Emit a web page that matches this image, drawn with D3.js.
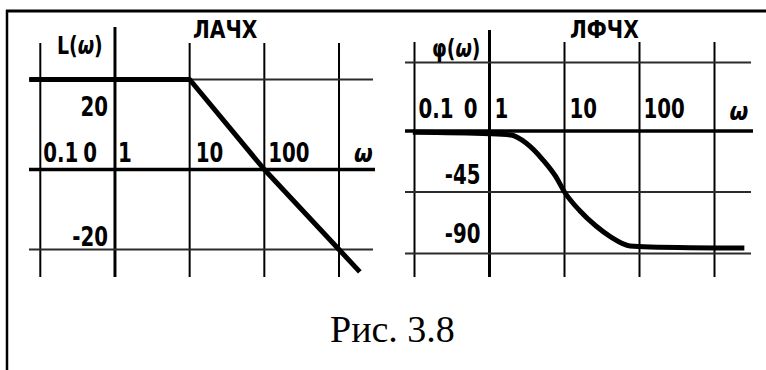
<!DOCTYPE html>
<html>
<head>
<meta charset="utf-8">
<script src="https://cdn.jsdelivr.net/npm/d3@7"></script>
<style>
  html, body { margin: 0; padding: 0; background: #fff; }
  svg { display: block; }
  .lbl { font-family: "DejaVu Sans Condensed", "DejaVu Sans", sans-serif; font-stretch: condensed; font-weight: bold; fill: #000; }
  .cap { font-family: "Liberation Serif", "Times New Roman", serif; fill: #000; }
</style>
</head>
<body>
<svg id="fig" width="766" height="370"></svg>
<script>
// Frequency decades shared by both plots
const freqTicks = [0.1, 1, 10, 100, 1000];
const freqLabels = ["0.1", "1", "10", "100"];

// ЛАЧХ: amplitude levels (dB) and asymptotic characteristic
const ampGrid = [20, 0, -20];
const ampLabels = ["20", "-20"];
const ampOmega = [0.071, 10, 100, 1000, 1900];
const ampL = [20, 20, 0, -20, -25.6];

// ЛФЧХ: phase levels (deg) and phase characteristic
const phaseGrid = [45, 0, -45, -90];
const phaseLabels = ["-45", "-90"];
const phaseOmega = [0.095, 1, 1.94, 3.07, 5.17, 7.7, 10, 16.1, 26.3, 41.7, 74.7, 138, 2500];
const phaseDeg = [-1, -2, -3, -8.9, -21.4, -33.9, -45, -58.9, -69.9, -78, -84.5, -85.2, -86];

const svg = d3.select("#fig");

// tall narrow bold lettering: text stretched vertically about its baseline
function label(parent, x, y, size, opts = {}) {
  const t = parent.append("text").attr("class", "lbl")
    .attr("transform", `translate(${x},${y}) scale(1,${opts.sy || 1.18})`)
    .attr("font-size", size)
    .attr("text-anchor", opts.anchor || "start");
  if (opts.italic) t.attr("font-style", "italic");
  return t;
}

// frame: top rule and left rule
svg.append("line").attr("x1", 6).attr("x2", 766).attr("y1", 11).attr("y2", 11)
  .attr("stroke", "#000").attr("stroke-width", 3);
svg.append("line").attr("x1", 7).attr("x2", 7).attr("y1", 10).attr("y2", 370)
  .attr("stroke", "#000").attr("stroke-width", 2.5);

function panel(cfg) {
  const g = svg.append("g");
  const x = d3.scaleLog().domain([0.1, 1000]).range(cfg.xRange);
  const y = d3.scaleLinear().domain(cfg.yDomain).range(cfg.yRange);

  // vertical grid (one per decade), ω = 1 acts as the ordinate axis
  freqTicks.forEach(f => {
    const isAxis = f === 1;
    g.append("line")
      .attr("x1", x(f)).attr("x2", x(f))
      .attr("y1", isAxis ? cfg.axisTop : cfg.gridTop).attr("y2", cfg.gridBottom)
      .attr("stroke", "#000").attr("stroke-width", isAxis ? 3 : 2);
  });

  // horizontal grid, zero level is the abscissa
  cfg.yDomain.forEach(v => {
    const isAxis = v === 0;
    g.append("line")
      .attr("x1", cfg.hLeft).attr("x2", isAxis ? cfg.hRight + 2 : cfg.hRight)
      .attr("y1", y(v)).attr("y2", y(v))
      .attr("stroke", isAxis ? "#000" : "#2b2b2b")
      .attr("stroke-width", isAxis ? 3.5 : 2);
  });

  // characteristic
  const line = d3.line().x(d => x(d[0])).y(d => y(d[1])).curve(cfg.curve);
  g.append("path")
    .datum(cfg.omega.map((w, i) => [w, cfg.values[i]]))
    .attr("d", line)
    .attr("fill", "none").attr("stroke", "#000")
    .attr("stroke-width", cfg.lineWidth)
    .attr("stroke-linejoin", "round");

  // frequency labels on the abscissa row
  const rowY = y(0) - cfg.rowGap;
  freqLabels.forEach((t, i) => {
    label(g, x(+t) + cfg.xLabelPad[i], rowY, 22).text(t);
  });
  // origin "0" of the ordinate
  label(g, x(1) - cfg.zeroPad, rowY, 22, { anchor: "end" }).text("0");
  // ω at the end of the abscissa
  label(g, x(1000) + 15, rowY + cfg.omegaDy, 24, { italic: true, sy: 1.05 }).text("ω");

  // ordinate value labels
  cfg.yLabels.forEach((t, i) => {
    label(g, x(1) - cfg.yLabelPad, y(+t) + cfg.yLabelDy[i], 22, { anchor: "end" }).text(t);
  });

  // ordinate name
  const nm = label(g, cfg.nameX, cfg.nameY, 21, { sy: 1.22 });
  nm.append("tspan").text(cfg.name + "(");
  nm.append("tspan").attr("font-style", "italic").text("ω");
  nm.append("tspan").text(")");

  // title
  label(g, cfg.titleX, 38, 22.5, { sy: 1.12 }).text(cfg.title);
}

panel({
  xRange: [40.3, 339], yDomain: ampGrid, yRange: [79.5, 169.5, 249.5],
  gridTop: 43, axisTop: 27, gridBottom: 277, hLeft: 29, hRight: 373,
  omega: ampOmega, values: ampL, curve: d3.curveLinear, lineWidth: 5,
  rowGap: 8, xLabelPad: [3, 3, 6, 4], zeroPad: 18, omegaDy: 0,
  yLabels: ampLabels, yLabelPad: 7, yLabelDy: [36, -4],
  name: "L", nameX: 57, nameY: 54, title: "ЛАЧХ", titleX: 193
});

panel({
  xRange: [414.5, 714.5], yDomain: phaseGrid, yRange: [62.5, 131, 192, 253.5],
  gridTop: 42, axisTop: 30, gridBottom: 277, hLeft: 405, hRight: 751,
  omega: phaseOmega, values: phaseDeg, curve: d3.curveMonotoneX, lineWidth: 5,
  rowGap: 13, xLabelPad: [4, 5, 5, 4], zeroPad: 12, omegaDy: 2,
  yLabels: phaseLabels, yLabelPad: 9, yLabelDy: [-8, -11],
  name: "φ", nameX: 432, nameY: 57, title: "ЛФЧХ", titleX: 570
});

// figure caption
svg.append("text").attr("class", "cap")
  .attr("x", 330).attr("y", 342).attr("font-size", 38).text("Рис. 3.8");
</script>
</body>
</html>
